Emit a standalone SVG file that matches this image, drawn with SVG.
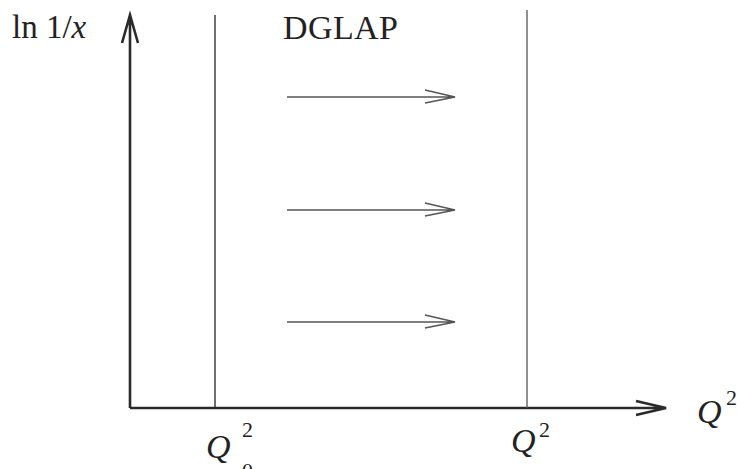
<svg xmlns="http://www.w3.org/2000/svg" width="737" height="469" viewBox="0 0 737 469">
<style>
text{font-family:"Liberation Serif","Times New Roman",serif;fill:#222}
.it{font-style:italic}
.axis{stroke:#2a2a2a;stroke-width:2.6;fill:none}
.vline{stroke:#222;stroke-width:1.3;fill:none}
.vline2{stroke:#555;stroke-width:1.3;fill:none}
.arr{stroke:#555;stroke-width:1.6;fill:none}
</style>
<rect width="737" height="469" fill="#fff"/>
<g id="connectors">
<path class="axis" d="M130,408 V15 M122,43 L130,15 L138,43"/>
<path class="axis" d="M130,408 H666 M636,401 L666,408 L636,415"/>
<path class="vline" d="M215,15 V408"/>
<path class="vline2" d="M527,10 V408"/>
<path class="arr" d="M287,97 H455 M425,90 L455,97 L425,103"/>
<path class="arr" d="M287,210 H455 M425,203 L455,210 L425,216"/>
<path class="arr" d="M287,322 H455 M425,315 L455,322 L425,328"/>
</g>
<g id="ylabel"><text x="12" y="38" font-size="33">ln 1/<tspan class="it">x</tspan></text></g>
<g id="dglap"><text x="283" y="39" font-size="34" textLength="115">DGLAP</text></g>
<g id="q0"><text class="it" x="206" y="458" font-size="34">Q</text><text x="242" y="437" font-size="22">2</text><text x="242" y="478" font-size="22">0</text></g>
<g id="q"><text class="it" x="511" y="452" font-size="34">Q</text><text x="539" y="437" font-size="22">2</text></g>
<g id="qaxis"><text class="it" x="697" y="423" font-size="34">Q</text><text x="726" y="405" font-size="22">2</text></g>
</svg>
